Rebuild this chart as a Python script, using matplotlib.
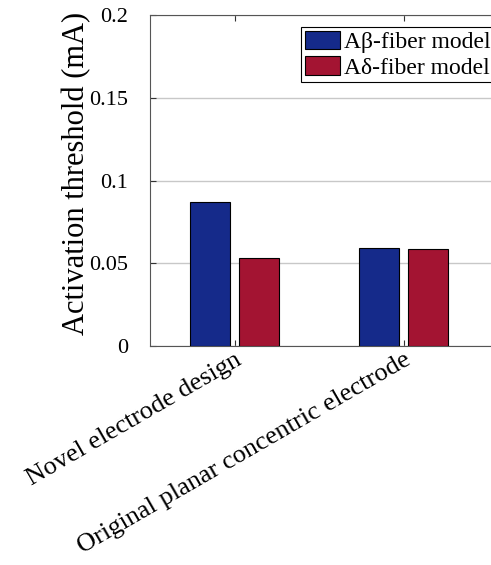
import numpy as np
import matplotlib.pyplot as plt

plt.rcParams['font.family'] = ['Liberation Serif', 'DejaVu Serif']

categories = ['Novel electrode design', 'Original planar concentric electrode']
series_names = ['A\u03b2-fiber model', 'A\u03b4-fiber model']
abeta = [0.087, 0.0595]
adelta = [0.0533, 0.0584]
yticks = [0, 0.05, 0.1, 0.15, 0.2]
yticklabels = ['0', '0.05', '0.1', '0.15', '0.2']

fig = plt.figure(figsize=(4.91, 5.65), dpi=100)
# axes run a bit past the right edge of the picture, like the cropped original
ax = fig.add_axes([150/491, 1-346/565, 350/491, 331/565])

x = np.arange(1, len(categories)+1)
w = 0.231
off = 0.145
ax.bar(x-off, abeta, w, color='#152a8a', edgecolor='black', linewidth=0.8, label=series_names[0], zorder=3)
ax.bar(x+off, adelta, w, color='#a31432', edgecolor='black', linewidth=0.8, label=series_names[1], zorder=3)

ax.set_xlim(0.5, 0.5 + 350/169)
ax.set_ylim(0, 0.2)
ax.set_yticks(yticks)
ax.set_yticklabels(yticklabels)
ax.set_xticks(x)
ax.set_xticklabels(categories, rotation=30, ha='right', va='top', rotation_mode='anchor', fontsize=19)
ax.yaxis.grid(True, color='#c8c8c8', linewidth=1, zorder=0)
ax.tick_params(axis='both', direction='in', length=4, top=True, right=False, color='#333333')
ax.tick_params(axis='y', labelsize=16, pad=16)
ax.tick_params(axis='x', pad=2)
ax.set_ylabel('Activation threshold (mA)', fontsize=22)
ax.yaxis.set_label_coords((91-150)/350, (346-173)/331)
for s in ['left', 'bottom', 'top']:
    ax.spines[s].set_color('#555555')
ax.spines['right'].set_visible(False)

leg = ax.legend(loc='upper right', bbox_to_anchor=(494/491, 1-27/565), bbox_transform=fig.transFigure,
                fontsize=17, fancybox=False, framealpha=1, edgecolor='black',
                handlelength=1.5, handleheight=0.85, handletextpad=0.15, borderpad=0.15,
                labelspacing=0.12, borderaxespad=0)
leg.get_frame().set_linewidth(0.8)

fig.savefig('out.png', dpi=100)
